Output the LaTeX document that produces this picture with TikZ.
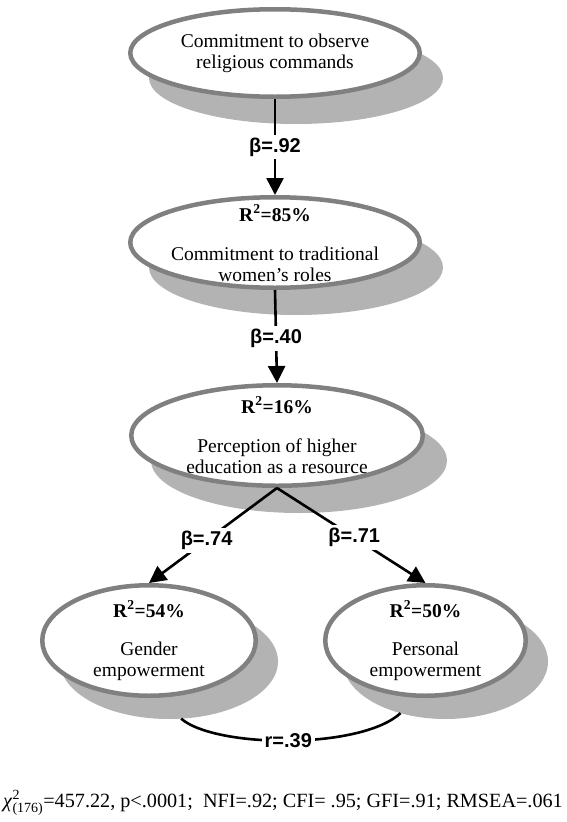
\documentclass[tikz,border=0pt]{standalone}
\usepackage{fontspec}
\setmainfont{Liberation Serif}
\newfontfamily\coefsans{Liberation Sans}
\usetikzlibrary{shapes.geometric,arrows.meta}
\definecolor{rim}{RGB}{128,128,128}
\definecolor{shade}{RGB}{179,179,179}

\tikzset{
  construct/.style={ellipse, draw=rim, line width=4.5pt, fill=white, inner sep=0pt},
  shadowell/.style={ellipse, fill=shade, inner sep=0pt, outer sep=0pt},
  rsq/.style={inner sep=0pt, font=\bfseries\fontsize{19.5}{21}\selectfont},
  varname/.style={align=center, inner sep=0pt, font=\fontsize{19.5}{21}\selectfont},
  effect/.style={line width=2.6pt, -{Triangle[width=17pt,length=17pt]}},
  coef/.style={fill=white, inner sep=3pt, font=\coefsans\bfseries\fontsize{20}{22}\selectfont},
  corr/.style={line width=2.6pt}
}
% small upright text for the chi-square indices
\newcommand{\idxtext}[1]{\hbox{\fontsize{14}{14}\selectfont #1}}

\begin{document}
\begin{tikzpicture}[x=1pt,y=-1pt]
\useasboundingbox (0,0) rectangle (567,822);

% drop shadows
\node[shadowell, minimum width=294pt, minimum height=92pt]  (s1) at (296,78)    {};
\node[shadowell, minimum width=294pt, minimum height=95pt]  (s2) at (296,267.5) {};
\node[shadowell, minimum width=296pt, minimum height=105pt] (s3) at (299,460.5) {};
\node[shadowell, minimum width=218pt, minimum height=115pt] (s4) at (169,661.5) {};
\node[shadowell, minimum width=205pt, minimum height=115pt] (s5) at (445.5,661.5) {};

% constructs
\node[construct, minimum width=289.5pt, minimum height=87.5pt]  (n1) at (275,53)    {};
\node[construct, minimum width=289.5pt, minimum height=90.5pt]  (n2) at (275,242.5) {};
\node[construct, minimum width=291.5pt, minimum height=100.5pt] (n3) at (277,435.5) {};
\node[construct, minimum width=213.5pt, minimum height=110.5pt] (n4) at (149,640.5) {};
\node[construct, minimum width=200.5pt, minimum height=110.5pt] (n5) at (425.5,640.5) {};

% construct labels
\node[varname] (t1) at (275,53) {Commitment to observe\\religious commands};
\node[rsq] (r2) at (275,213) {R\textsuperscript{2}=85\%};
\node[varname] (t2) at (275,264.5) {Commitment to traditional\\women's roles};
\node[rsq] (r3) at (277,405) {R\textsuperscript{2}=16\%};
\node[varname] (t3) at (277,456) {Perception of higher\\education as a resource};
\node[rsq] (r4) at (149,609) {R\textsuperscript{2}=54\%};
\node[varname] (t4) at (149,661) {Gender\\empowerment};
\node[rsq] (r5) at (425.5,609) {R\textsuperscript{2}=50\%};
\node[varname] (t5) at (425.5,661) {Personal\\empowerment};

% paths
\draw[effect] (n1.south) -- node[coef, pos=0.5] (b1) {β=.92} (n2.north);
\draw[effect] (n2.south) -- node[coef, pos=0.52] (b2) {β=.40} (n3.north);
\draw[effect] (n3.south) -- node[coef, pos=0.55] (b3) {β=.74} (n4.north);
\draw[effect] (n3.south) -- node[coef, pos=0.52] (b4) {β=.71} (n5.north);

% correlation between the outcomes
\draw[corr] (s4.-78) .. controls (215,748) and (360,750) .. node[coef, pos=0.5] (rr) {r=.39} (s5.-131);

% fit indices
\node[anchor=west, inner sep=0pt, font=\fontsize{20.2}{22}\selectfont] (fit) at (3,803)
  {\textit{χ}$^{\idxtext{2}}_{\idxtext{(176)}}$=457.22, p<.0001;\ \ NFI=.92; CFI= .95; GFI=.91; RMSEA=.061};
\end{tikzpicture}
\end{document}
